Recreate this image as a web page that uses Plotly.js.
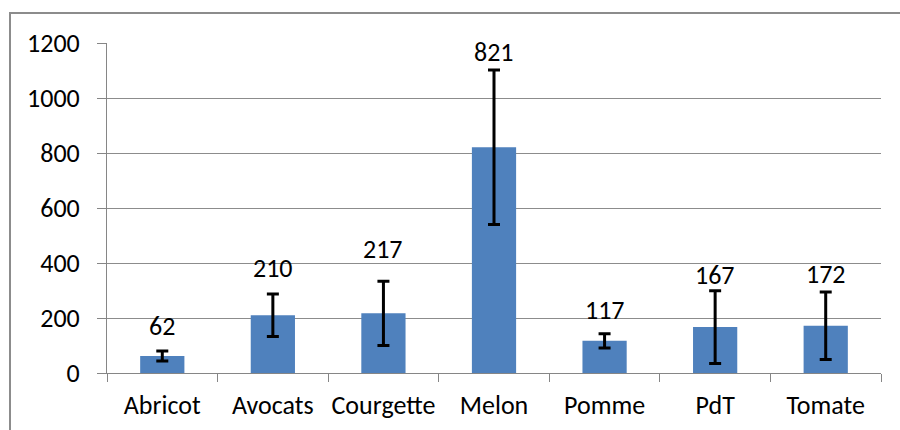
<!DOCTYPE html>
<html>
<head>
<meta charset="utf-8">
<script src="https://cdn.plot.ly/plotly-3.0.1.min.js"></script>
<style>
  html, body { margin: 0; padding: 0; background: #fff; }
  #frame { position: absolute; left: 9px; top: 12px; width: 900px; height: 430px; border: 2px solid #8c8c8c; box-sizing: border-box; }
  #chart { position: absolute; left: 0; top: 0; width: 900px; height: 430px; }
</style>
</head>
<body>
<div id="frame"></div>
<div id="chart"></div>
<script>
const categories = ["Abricot", "Avocats", "Courgette", "Melon", "Pomme", "PdT", "Tomate"];
const values = [62, 210, 217, 821, 117, 167, 172];
const errors = [18, 77, 117, 281, 26, 132, 123];
const valueLabels = ["62", "210", "217", "821", "117", "167", "172"];
const yTickValues = [0, 200, 400, 600, 800, 1000, 1200];

// pixel nudges of the value labels above the error bar tops
const labelShift = [7, 8, 14, 0, 6, -2, 0];

const font = { family: "Calibri, Carlito, 'Liberation Sans', Arial, sans-serif", size: 26, color: "#000" };

const trace = {
  type: "bar",
  x: categories,
  y: values,
  marker: { color: "#4F81BD" },
  error_y: { type: "data", array: errors, visible: true, color: "#000", thickness: 3, width: 6 },
  hoverinfo: "none"
};

const annotations = categories.map((c, i) => ({
  x: c,
  y: values[i] + errors[i],
  xref: "x",
  yref: "y",
  text: valueLabels[i],
  showarrow: false,
  yanchor: "bottom",
  yshift: labelShift[i],
  font: font
}));

const layout = {
  width: 900,
  height: 430,
  margin: { l: 107, r: 19, t: 43, b: 57 },
  paper_bgcolor: "rgba(0,0,0,0)",
  plot_bgcolor: "rgba(0,0,0,0)",
  bargap: 0.6,
  showlegend: false,
  font: font,
  xaxis: {
    type: "category",
    showline: true,
    linecolor: "#868686",
    linewidth: 1,
    ticks: "outside",
    tickcolor: "#868686",
    ticklen: 8,
    tickson: "boundaries",
    tickangle: 0,
    ticklabelstandoff: 9,
    showgrid: false,
    tickfont: font,
    automargin: false,
    fixedrange: true
  },
  yaxis: {
    range: [0, 1200],
    tickvals: yTickValues,
    ticktext: yTickValues.map(String),
    showline: true,
    linecolor: "#868686",
    linewidth: 1,
    ticks: "outside",
    tickcolor: "#868686",
    ticklen: 9,
    ticklabelstandoff: 12,
    showgrid: true,
    gridcolor: "#8c8c8c",
    gridwidth: 1,
    zeroline: false,
    tickfont: font,
    automargin: false,
    fixedrange: true
  },
  annotations: annotations
};

Plotly.newPlot("chart", [trace], layout, { displayModeBar: false, staticPlot: true });
</script>
</body>
</html>
